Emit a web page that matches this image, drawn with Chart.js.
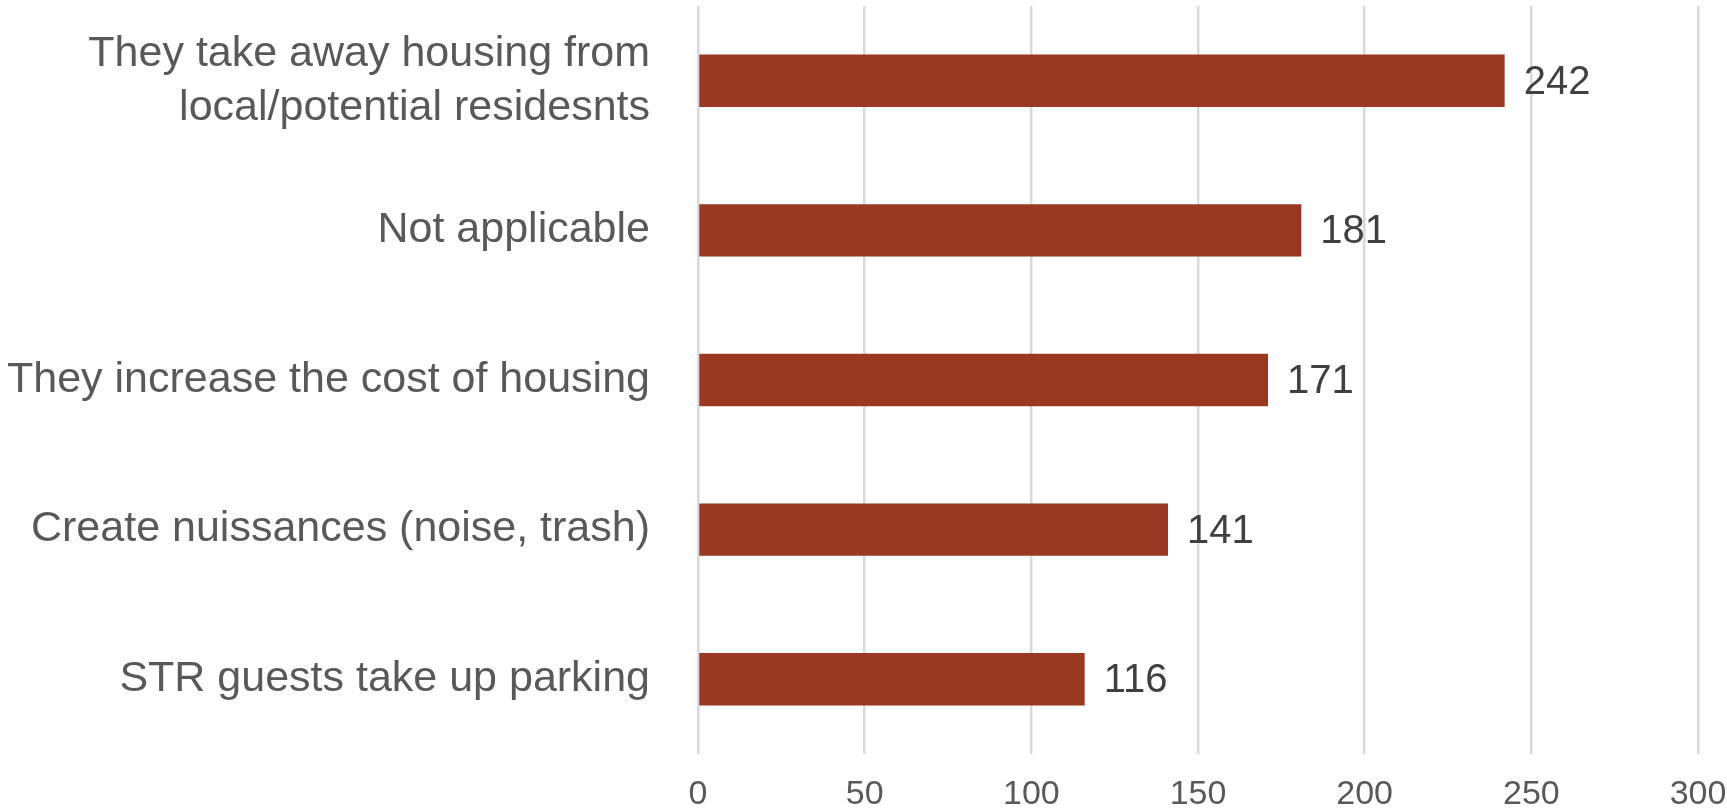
<!DOCTYPE html>
<html>
<head>
<meta charset="utf-8">
<script src="https://cdn.jsdelivr.net/npm/chart.js@4.4.1/dist/chart.umd.min.js"></script>
<style>
  html, body { margin: 0; padding: 0; background: #ffffff; }
  #wrap { width: 1727px; height: 809px; }
</style>
</head>
<body>
<div id="wrap"><canvas id="graphBarConcerns"></canvas></div>
<script>
// Réponses au sondage sur les locations de courte durée (STR)
const categories = [
  ['They take away housing from', 'local/potential residesnts'],
  'Not applicable',
  'They increase the cost of housing',
  'Create nuissances (noise, trash)',
  'STR guests take up parking'
];
const responses = [242, 181, 171, 141, 116];
const axisMin = 0;
const axisMax = 300;
const axisStep = 50;

const barColor = '#9a3922';
const gridColor = '#d9d9d9';
const fontFamily = '"Liberation Sans", Arial, sans-serif';

// Petites étiquettes de valeur à droite de chaque barre
const valueLabels = {
  id: 'valueLabels',
  afterDatasetsDraw(chart) {
    const ctx = chart.ctx;
    const meta = chart.getDatasetMeta(0);
    ctx.save();
    ctx.font = '40px ' + fontFamily;
    ctx.fillStyle = '#404040';
    ctx.textAlign = 'left';
    ctx.textBaseline = 'middle';
    meta.data.forEach((bar, i) => {
      ctx.fillText(String(responses[i]), bar.x + 19, bar.y + 2);
    });
    ctx.restore();
  }
};

const ctx = document.getElementById('graphBarConcerns').getContext('2d');
window.graphBarConcerns = new Chart(ctx, {
  type: 'bar',
  data: {
    labels: categories,
    datasets: [{
      data: responses,
      backgroundColor: barColor,
      borderWidth: 0,
      categoryPercentage: 0.35,
      barPercentage: 1
    }]
  },
  plugins: [valueLabels],
  options: {
    indexAxis: 'y',
    responsive: true,
    maintainAspectRatio: false,
    animation: false,
    layout: {
      padding: { top: 6, right: 29, bottom: 0, left: 0 }
    },
    plugins: {
      legend: { display: false },
      tooltip: { enabled: false }
    },
    scales: {
      x: {
        min: axisMin,
        max: axisMax,
        ticks: {
          stepSize: axisStep,
          padding: 20,
          color: '#595959',
          font: { family: fontFamily, size: 34 }
        },
        grid: {
          color: gridColor,
          lineWidth: 2.5,
          drawTicks: false
        },
        border: { display: false },
        afterFit(scale) {
          scale.height = 55;
          scale.paddingLeft = 0;
          scale.paddingRight = 0;
        }
      },
      y: {
        ticks: {
          padding: 48,
          color: '#595959',
          font: { family: fontFamily, size: 43, lineHeight: 1.25 }
        },
        grid: { display: false, drawTicks: false },
        border: { display: false },
        afterFit(scale) {
          // pas de marge pour les libellés qui dépassent
          scale.width = 698;
          scale.paddingTop = 0;
          scale.paddingBottom = 0;
        }
      }
    }
  }
});
</script>
</body>
</html>
